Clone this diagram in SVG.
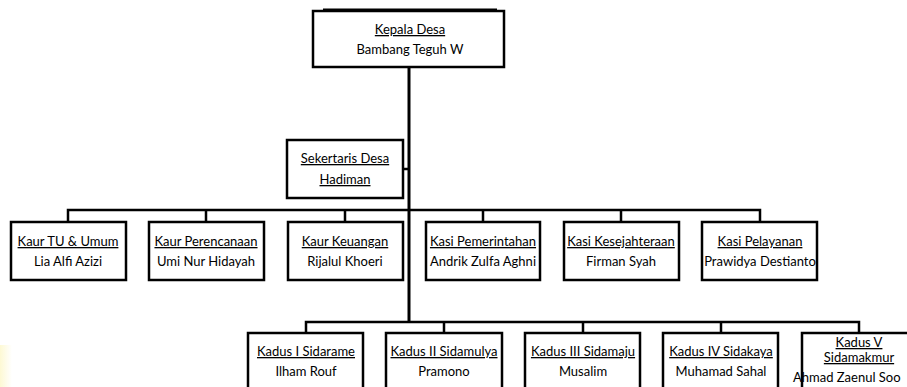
<svg xmlns="http://www.w3.org/2000/svg" width="907" height="387" viewBox="0 0 907 387">
<defs>
<style>
.box{fill:#fff;stroke:#000;stroke-width:2.5}
.ln{fill:none;stroke:#000;stroke-width:2.5}
.t{font-family:Lato,"Liberation Sans",sans-serif;font-size:13px;fill:#000;text-anchor:middle}
.u{text-decoration:underline}
</style>
<linearGradient id="yg" x1="0" y1="0" x2="1" y2="0">
<stop offset="0" stop-color="#fbf3a8" stop-opacity="0.5"/>
<stop offset="1" stop-color="#fbf3a8" stop-opacity="0"/>
</linearGradient>
</defs>
<rect width="907" height="387" fill="#fff"/>
<rect x="0" y="345" width="12" height="42" fill="url(#yg)"/>
<g id="connectors">
<path class="ln" d="M409,67V322" style="stroke-width:3"/>
<path class="ln" d="M403,169H409"/>
<path class="ln" d="M68,222V210H760V222M206,210V222M345,210V222M483,210V222M621,210V222"/>
<path class="ln" d="M306,333V322H859V333M444,322V333M583,322V333M721,322V333"/>
</g>
<g id="kepala">
<rect class="box" x="313" y="11" width="191" height="56"/>
<path d="M323,9.5H497" stroke="#000" stroke-width="2"/>
<text class="t u" x="410" y="34">Kepala Desa</text>
<text class="t" x="410" y="54">Bambang Teguh W</text>
</g>
<g id="sekertaris">
<rect class="box" x="287" y="140" width="116" height="58"/>
<text class="t u" x="345" y="163">Sekertaris Desa</text>
<text class="t u" x="345" y="184">Hadiman</text>
</g>
<g id="kaur-tu">
<rect class="box" x="11" y="222" width="115" height="58"/>
<text class="t u" x="68" y="246">Kaur TU &amp; Umum</text>
<text class="t" x="68" y="266">Lia Alfi Azizi</text>
</g>
<g id="kaur-perencanaan">
<rect class="box" x="149" y="222" width="115" height="58"/>
<text class="t u" x="206" y="246">Kaur Perencanaan</text>
<text class="t" x="206" y="266">Umi Nur Hidayah</text>
</g>
<g id="kaur-keuangan">
<rect class="box" x="288" y="222" width="115" height="58"/>
<text class="t u" x="345" y="246">Kaur Keuangan</text>
<text class="t" x="345" y="266">Rijalul Khoeri</text>
</g>
<g id="kasi-pemerintahan">
<rect class="box" x="426" y="222" width="114" height="58"/>
<text class="t u" x="483" y="246">Kasi Pemerintahan</text>
<text class="t" x="483" y="266">Andrik Zulfa Aghni</text>
</g>
<g id="kasi-kesejahteraan">
<rect class="box" x="564" y="222" width="115" height="58"/>
<text class="t u" x="621" y="246">Kasi Kesejahteraan</text>
<text class="t" x="621" y="266">Firman Syah</text>
</g>
<g id="kasi-pelayanan">
<rect class="box" x="702" y="222" width="115" height="58"/>
<text class="t u" x="760" y="246">Kasi Pelayanan</text>
<text class="t" x="760" y="266">Prawidya Destianto</text>
</g>
<g id="kadus-1">
<rect class="box" x="248" y="333" width="115" height="70"/>
<text class="t u" x="306" y="356">Kadus I Sidarame</text>
<text class="t" x="306" y="376">Ilham Rouf</text>
</g>
<g id="kadus-2">
<rect class="box" x="386" y="333" width="116" height="70"/>
<text class="t u" x="444" y="356">Kadus II Sidamulya</text>
<text class="t" x="444" y="376">Pramono</text>
</g>
<g id="kadus-3">
<rect class="box" x="525" y="333" width="115" height="70"/>
<text class="t u" x="583" y="356">Kadus III Sidamaju</text>
<text class="t" x="583" y="376">Musalim</text>
</g>
<g id="kadus-4">
<rect class="box" x="663" y="333" width="115" height="70"/>
<text class="t u" x="721" y="356">Kadus IV Sidakaya</text>
<text class="t" x="721" y="376">Muhamad Sahal</text>
</g>
<g id="kadus-5">
<rect class="box" x="802" y="333" width="115" height="70"/>
<text class="t u" x="859" y="347">Kadus V</text>
<text class="t u" x="859" y="362">Sidamakmur</text>
<text class="t" x="793" y="382" style="text-anchor:start">Ahmad Zaenul Soo</text>
</g>
</svg>
